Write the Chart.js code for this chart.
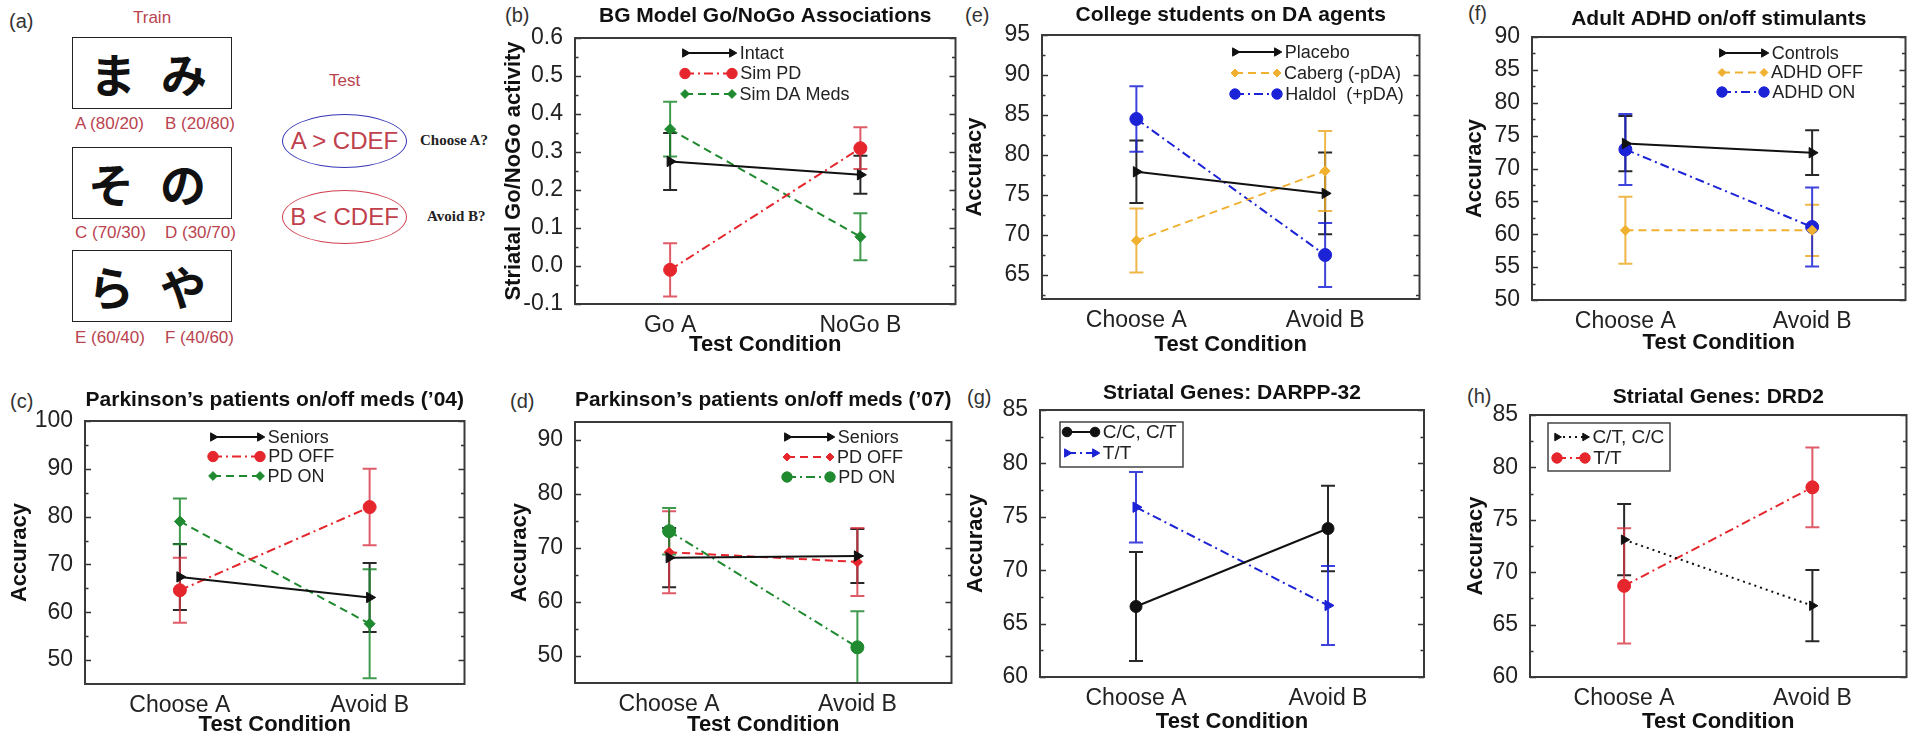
<!DOCTYPE html>
<html>
<head>
<meta charset="utf-8">
<script src="https://cdn.jsdelivr.net/npm/chart.js@4.4.1/dist/chart.umd.min.js"></script>
<style>
  html, body { margin: 0; padding: 0; background: #fff; }
  body { width: 1918px; height: 736px; overflow: hidden; position: relative;
         font-family: "Liberation Sans", Arial, sans-serif; }
  canvas { position: absolute; }
  .letra { position: absolute; font-size: 20px; color: #333; line-height: 20px; }
  .verm { position: absolute; font-size: 17px; color: #b9434f; line-height: 17px; white-space: nowrap; }
  .caixa { position: absolute; left: 72px; width: 160px; height: 72px; box-sizing: border-box;
           border: 1.5px solid #222; }
  .caixa span { position: absolute; top: 0; width: 60px; text-align: center; line-height: 68px;
                font-family: "Noto Sans CJK JP", sans-serif; font-weight: bold; font-size: 46px; color: #111; }
  .elipse { position: absolute; left: 282px; width: 125px; height: 54px; box-sizing: border-box;
            border-radius: 50%; text-align: center; line-height: 52px; font-size: 24px; color: #c0404c; }
  .serif { position: absolute; font-family: "Liberation Serif", serif; font-weight: bold;
           font-size: 15px; color: #222; line-height: 15px; }
</style>
</head>
<body>

<!-- painel (a): desenho do experimento -->
<div class="letra" style="left:9px;top:11px">(a)</div>
<div class="verm" style="left:133px;top:9px">Train</div>
<div class="caixa" style="top:37px"><span style="left:10px">ま</span><span style="left:81px">み</span></div>
<div class="verm" style="left:75px;top:115px">A (80/20)</div>
<div class="verm" style="left:165px;top:115px">B (20/80)</div>
<div class="caixa" style="top:147px"><span style="left:8px">そ</span><span style="left:80px">の</span></div>
<div class="verm" style="left:75px;top:224px">C (70/30)</div>
<div class="verm" style="left:165px;top:224px">D (30/70)</div>
<div class="caixa" style="top:250px"><span style="left:8px">ら</span><span style="left:80px">や</span></div>
<div class="verm" style="left:75px;top:329px">E (60/40)</div>
<div class="verm" style="left:165px;top:329px">F (40/60)</div>
<div class="verm" style="left:329px;top:72px">Test</div>
<div class="elipse" style="top:114px;border:1.5px solid #3535b5">A &gt; CDEF</div>
<div class="elipse" style="top:190px;border:1.5px solid #d04050">B &lt; CDEF</div>
<div class="serif" style="left:420px;top:133px">Choose A?</div>
<div class="serif" style="left:427px;top:209px">Avoid B?</div>

<!-- letras dos paineis -->
<div class="letra" style="left:505px;top:5px">(b)</div>
<div class="letra" style="left:965px;top:5px">(e)</div>
<div class="letra" style="left:1468px;top:3px">(f)</div>
<div class="letra" style="left:10px;top:391px">(c)</div>
<div class="letra" style="left:510px;top:391px">(d)</div>
<div class="letra" style="left:967px;top:387px">(g)</div>
<div class="letra" style="left:1467px;top:386px">(h)</div>

<canvas id="cb"></canvas>
<canvas id="cc"></canvas>
<canvas id="cd"></canvas>
<canvas id="ce"></canvas>
<canvas id="cf"></canvas>
<canvas id="cg"></canvas>
<canvas id="ch"></canvas>

<script>
// ==========================================
// 1. DADOS
// ==========================================

const catsGo = ["Go A", "NoGo B"];
const catsTeste = ["Choose A", "Avoid B"];

// (b) modelo BG
const bIntact = [0.275, 0.24];
const bIntactErr = [0.075, 0.05];
const bSimPD = [-0.01, 0.31];
const bSimPDErr = [0.07, 0.055];
const bSimDA = [0.36, 0.077];
const bSimDAErr = [0.072, 0.062];
const bTicks = [-0.1, 0, 0.1, 0.2, 0.3, 0.4, 0.5, 0.6];
const bMenores = [-0.05, 0.05, 0.15, 0.25, 0.35, 0.45, 0.55];

// (c) Parkinson '04
const cSeniors = [67.4, 63.1];
const cSeniorsErr = [6.9, 7.2];
const cOff = [64.6, 82.0];
const cOffErr = [6.8, 8.0];
const cOn = [79.0, 57.6];
const cOnErr = [4.8, 11.4];
const cTicks = [50, 60, 70, 80, 90, 100];
const cMenores = [55, 65, 75, 85, 95];

// (d) Parkinson '07
const dSeniors = [68.2, 68.5];
const dSeniorsErr = [5.5, 5.0];
const dOff = [69.2, 67.4];
const dOffErr = [7.6, 6.3];
const dOn = [73.1, 51.6];
const dOnErr = [4.3, 6.7];
const dTicks = [50, 60, 70, 80, 90];
const dMenores = [55, 65, 75, 85];

// (e) universitarios
const ePlacebo = [77.9, 75.2];
const ePlaceboErr = [3.9, 5.1];
const eCaberg = [69.3, 78.0];
const eCabergErr = [4.0, 5.0];
const eHaldol = [84.5, 67.5];
const eHaldolErr = [4.1, 4.0];
const eTicks = [65, 70, 75, 80, 85, 90, 95];
const eMenores = [62.5, 67.5, 72.5, 77.5, 82.5, 87.5, 92.5];

// (f) TDAH adulto
const fControls = [73.8, 72.4];
const fControlsErr = [4.2, 3.4];
const fOff = [60.6, 60.6];
const fOffErr = [5.1, 3.9];
const fOn = [72.9, 61.1];
const fOnErr = [5.4, 6.0];
const fTicks = [50, 55, 60, 65, 70, 75, 80, 85, 90];
const fMenores = [52.5, 57.5, 62.5, 67.5, 72.5, 77.5, 82.5, 87.5];

// (g) DARPP-32
const gCC = [66.6, 73.9];
const gCCErr = [5.1, 4.0];
const gTT = [75.9, 66.7];
const gTTErr = [3.3, 3.7];
const gTicks = [60, 65, 70, 75, 80, 85];
const gMenores = [62.5, 67.5, 72.5, 77.5, 82.5];

// (h) DRD2
const hCT = [73.1, 66.8];
const hCTErr = [3.4, 3.4];
const hTT = [68.7, 78.1];
const hTTErr = [5.5, 3.8];
const hTicks = [60, 65, 70, 75, 80, 85];
const hMenores = [62.5, 67.5, 72.5, 77.5, 82.5];

// ==========================================
// 2. ESTILOS
// ==========================================

const FONTE = "'Liberation Sans', Arial, sans-serif";
Chart.defaults.font.family = FONTE;
Chart.defaults.color = "#222";

const PRETO = "#111111";
const VERMELHO = "#e5262d";
const VERDE = "#1f8a2f";
const LARANJA = "#f0b130";
const AZUL = "#1c22d6";

const estPreto = { cor: PRETO, erro: "rgba(17,17,17,0.9)", traco: [], ponto: "triangle", rot: 90, raio: 6 };
const estPretoCirc = { cor: PRETO, erro: "rgba(17,17,17,0.9)", traco: [], ponto: "circle", rot: 0, raio: 6 };
const estPretoPont = { cor: PRETO, erro: "rgba(17,17,17,0.9)", traco: [2, 4], ponto: "triangle", rot: 90, raio: 5.5 };
const estVermTP = { cor: VERMELHO, erro: "rgba(215,50,65,0.8)", traco: [9, 4, 2, 4], ponto: "circle", rot: 0, raio: 6.5 };
const estVermTr = { cor: VERMELHO, erro: "rgba(215,50,65,0.8)", traco: [8, 5], ponto: "rectRot", rot: 0, raio: 5 };
const estVerdeTr = { cor: VERDE, erro: "rgba(31,138,47,0.85)", traco: [8, 5], ponto: "rectRot", rot: 0, raio: 5.5 };
const estVerdeTP = { cor: VERDE, erro: "rgba(31,138,47,0.85)", traco: [9, 4, 2, 4], ponto: "circle", rot: 0, raio: 6.5 };
const estLaranja = { cor: LARANJA, erro: "rgba(235,170,40,0.85)", traco: [8, 5], ponto: "rectRot", rot: 0, raio: 5 };
const estAzul = { cor: AZUL, erro: "rgba(28,34,214,0.85)", traco: [9, 4, 2, 4], ponto: "circle", rot: 0, raio: 6.5 };
const estAzulTri = { cor: AZUL, erro: "rgba(28,34,214,0.85)", traco: [9, 4, 2, 4], ponto: "triangle", rot: 90, raio: 6 };

function serie(label, data, erros, s) {
    return {
        label: label,
        data: data,
        erros: erros,
        corErro: s.erro,
        borderColor: s.cor,
        backgroundColor: s.cor,
        pointBackgroundColor: s.cor,
        pointBorderColor: s.cor,
        borderWidth: 2,
        borderDash: s.traco,
        pointStyle: s.ponto,
        pointRotation: s.rot,
        pointRadius: s.raio,
        pointHoverRadius: s.raio,
        pointBorderWidth: 1,
        tension: 0,
        fill: false,
    };
}

// ==========================================
// 3. PLUGINS (barras de erro, moldura, legenda)
// ==========================================

const errosPlugin = {
    id: "erros",
    beforeDatasetsDraw(chart) {
        const { ctx, chartArea: a, scales } = chart;
        const y = scales.y;
        ctx.save();
        ctx.beginPath();
        ctx.rect(a.left, a.top - 1, a.right - a.left, a.bottom - a.top + 2);
        ctx.clip();
        chart.data.datasets.forEach((ds, i) => {
            const meta = chart.getDatasetMeta(i);
            ds.erros.forEach((e, j) => {
                const px = meta.data[j].x;
                const y1 = y.getPixelForValue(ds.data[j] + e);
                const y2 = y.getPixelForValue(ds.data[j] - e);
                ctx.strokeStyle = ds.corErro;
                ctx.lineWidth = 2;
                ctx.beginPath();
                ctx.moveTo(px, y1); ctx.lineTo(px, y2);
                ctx.moveTo(px - 7, y1); ctx.lineTo(px + 7, y1);
                ctx.moveTo(px - 7, y2); ctx.lineTo(px + 7, y2);
                ctx.stroke();
            });
        });
        ctx.restore();
    },
};

const molduraPlugin = {
    id: "moldura",
    afterDatasetsDraw(chart, args, opts) {
        const { ctx, chartArea: a, scales } = chart;
        const y = scales.y;
        ctx.save();
        ctx.strokeStyle = "#333";
        ctx.lineWidth = 1.5;
        const marcar = (vals, len) => vals.forEach((v) => {
            const py = Math.round(y.getPixelForValue(v)) + 0.5;
            ctx.beginPath();
            ctx.moveTo(a.left, py); ctx.lineTo(a.left + len, py);
            ctx.moveTo(a.right, py); ctx.lineTo(a.right - len, py);
            ctx.stroke();
        });
        marcar(y.ticks.map((t) => t.value), 6);
        marcar(opts.menores || [], 3.5);
        ctx.strokeStyle = "#3a3a3a";
        ctx.lineWidth = 2;
        ctx.strokeRect(a.left, a.top, a.right - a.left, a.bottom - a.top);
        ctx.restore();
    },
};

function desenharMarcador(ctx, ds, x, y, r) {
    ctx.fillStyle = ds.pointBackgroundColor;
    ctx.strokeStyle = ds.pointBorderColor;
    ctx.lineWidth = 1;
    ctx.setLineDash([]);
    if (Chart.helpers && Chart.helpers.drawPoint) {
        Chart.helpers.drawPoint(ctx, {
            pointStyle: ds.pointStyle,
            rotation: ds.pointRotation,
            radius: r,
            borderWidth: 1,
        }, x, y);
        return;
    }
    ctx.beginPath();
    if (ds.pointStyle === "circle") {
        ctx.arc(x, y, r, 0, Math.PI * 2);
    } else if (ds.pointStyle === "triangle") {
        ctx.moveTo(x + r, y);
        ctx.lineTo(x - r / 2, y - r * 0.87);
        ctx.lineTo(x - r / 2, y + r * 0.87);
        ctx.closePath();
    } else {
        ctx.moveTo(x, y - r); ctx.lineTo(x + r, y); ctx.lineTo(x, y + r); ctx.lineTo(x - r, y);
        ctx.closePath();
    }
    ctx.fill();
    ctx.stroke();
}

const legendaPlugin = {
    id: "legenda",
    afterDatasetsDraw(chart, args, opts) {
        if (!opts || opts.dx === undefined) return;
        const { ctx, chartArea: a } = chart;
        const x0 = a.left + opts.dx;
        const y0 = a.top + opts.dy;
        ctx.save();
        if (opts.caixa) {
            ctx.strokeStyle = "#444";
            ctx.lineWidth = 1.5;
            ctx.strokeRect(a.left + opts.caixa[0], a.top + opts.caixa[1], opts.caixa[2], opts.caixa[3]);
        }
        chart.data.datasets.forEach((ds, i) => {
            const yy = y0 + i * opts.passo;
            const r = ds.pointRadius * 0.8;
            ctx.strokeStyle = ds.borderColor;
            ctx.lineWidth = 2;
            ctx.setLineDash(ds.borderDash || []);
            ctx.beginPath();
            ctx.moveTo(x0, yy);
            ctx.lineTo(x0 + opts.len, yy);
            ctx.stroke();
            desenharMarcador(ctx, ds, x0, yy, r);
            desenharMarcador(ctx, ds, x0 + opts.len, yy, r);
            ctx.fillStyle = "#222";
            ctx.font = opts.fonte + "px " + FONTE;
            ctx.textBaseline = "middle";
            ctx.textAlign = "left";
            ctx.fillText(ds.label, x0 + opts.len + r + 3, yy + 1);
        });
        ctx.restore();
    },
};

// ==========================================
// 4. MONTAGEM DE CADA PAINEL
// ==========================================

function montarPainel(id, g, cats, ticks, menores, fmt, yMin, yMax, titulo, yTitulo, series, legenda) {
    const canvas = document.getElementById(id);
    const esq = Math.round(g.yTitleX - 15.2);
    const topo = Math.round(g.titleY - 14.6);
    const padDir = 4;
    const yW = g.l - esq;
    const xH = Math.round(g.xTitleY - g.b + 14.2);
    canvas.width = g.r - esq + padDir;
    canvas.height = g.b + xH - topo;
    canvas.style.left = esq + "px";
    canvas.style.top = topo + "px";

    return new Chart(canvas, {
        type: "line",
        data: { labels: cats, datasets: series },
        options: {
            responsive: false,
            animation: false,
            devicePixelRatio: 1,
            layout: { padding: { left: 0, top: 0, bottom: 0, right: padDir } },
            plugins: {
                legend: { display: false },
                tooltip: { enabled: false },
                title: {
                    display: true,
                    text: titulo,
                    fullSize: false,
                    color: "#111",
                    font: { size: 21, weight: "bold", lineHeight: 1.2 },
                    padding: { top: g.titleY - topo - 12.6, bottom: g.t - g.titleY - 12.6 },
                },
                moldura: { menores: menores },
                legenda: legenda,
            },
            scales: {
                x: {
                    type: "category",
                    offset: true,
                    grid: { display: false },
                    border: { display: false },
                    ticks: { font: { size: 23 }, padding: 0, color: "#222", maxRotation: 0 },
                    title: {
                        display: true,
                        text: "Test Condition",
                        color: "#111",
                        font: { size: 22, weight: "bold", lineHeight: 1.2 },
                        padding: { top: 0, bottom: g.b + xH - g.xTitleY - 13.2 },
                    },
                    afterFit: (s) => { s.height = xH; },
                },
                y: {
                    min: yMin,
                    max: yMax,
                    grid: { display: false },
                    border: { display: false },
                    ticks: { font: { size: 23 }, padding: 4, color: "#222", callback: fmt },
                    afterBuildTicks: (s) => { s.ticks = ticks.map((v) => ({ value: v })); },
                    title: {
                        display: true,
                        text: yTitulo,
                        color: "#111",
                        font: { size: 22, weight: "bold", lineHeight: 1.2 },
                        padding: { top: g.yTitleX - esq - 13.2, bottom: 0 },
                    },
                    afterFit: (s) => { s.width = yW; },
                },
            },
        },
        plugins: [errosPlugin, molduraPlugin, legendaPlugin],
    });
}

const inteiro = (v) => String(v);
const umaCasa = (v) => v.toFixed(1);

montarPainel("cb",
    { l: 575, t: 38, r: 959, b: 304, yTitleX: 514, titleY: 16, xTitleY: 345 },
    catsGo, bTicks, bMenores, umaCasa, -0.1, 0.6,
    "BG Model Go/NoGo Associations", "Striatal Go/NoGo activity",
    [serie("Intact", bIntact, bIntactErr, estPreto),
     serie("Sim PD", bSimPD, bSimPDErr, estVermTP),
     serie("Sim DA Meds", bSimDA, bSimDAErr, estVerdeTr)],
    { dx: 110, dy: 15, passo: 20.5, len: 47, fonte: 18 });

montarPainel("cc",
    { l: 85, t: 421, r: 468, b: 684, yTitleX: 20, titleY: 400, xTitleY: 725 },
    catsTeste, cTicks, cMenores, inteiro, 45, 100,
    "Parkinson\u2019s patients on/off meds (\u201904)", "Accuracy",
    [serie("Seniors", cSeniors, cSeniorsErr, estPreto),
     serie("PD OFF", cOff, cOffErr, estVermTP),
     serie("PD ON", cOn, cOnErr, estVerdeTr)],
    { dx: 128, dy: 16, passo: 19.5, len: 47, fonte: 18 });

montarPainel("cd",
    { l: 575, t: 422, r: 955, b: 683, yTitleX: 519.5, titleY: 400, xTitleY: 725 },
    catsTeste, dTicks, dMenores, inteiro, 45, 93.3,
    "Parkinson\u2019s patients on/off meds (\u201907)", "Accuracy",
    [serie("Seniors", dSeniors, dSeniorsErr, estPreto),
     serie("PD OFF", dOff, dOffErr, estVermTr),
     serie("PD ON", dOn, dOnErr, estVerdeTP)],
    { dx: 212, dy: 15, passo: 20, len: 43, fonte: 18 });

montarPainel("ce",
    { l: 1042, t: 35, r: 1423, b: 299, yTitleX: 975, titleY: 15, xTitleY: 345 },
    catsTeste, eTicks, eMenores, inteiro, 62, 95,
    "College students on DA agents", "Accuracy",
    [serie("Placebo", ePlacebo, ePlaceboErr, estPreto),
     serie("Caberg (-pDA)", eCaberg, eCabergErr, estLaranja),
     serie("Haldol  (+pDA)", eHaldol, eHaldolErr, estAzul)],
    { dx: 193, dy: 17, passo: 21, len: 42, fonte: 18 });

montarPainel("cf",
    { l: 1532, t: 37, r: 1909, b: 300, yTitleX: 1475, titleY: 19, xTitleY: 343 },
    catsTeste, fTicks, fMenores, inteiro, 50, 90,
    "Adult ADHD on/off stimulants", "Accuracy",
    [serie("Controls", fControls, fControlsErr, estPreto),
     serie("ADHD OFF", fOff, fOffErr, estLaranja),
     serie("ADHD ON", fOn, fOnErr, estAzul)],
    { dx: 190, dy: 16, passo: 19.5, len: 42, fonte: 18 });

montarPainel("cg",
    { l: 1040, t: 410, r: 1427, b: 677, yTitleX: 975.5, titleY: 393, xTitleY: 722 },
    catsTeste, gTicks, gMenores, inteiro, 60, 85,
    "Striatal Genes: DARPP-32", "Accuracy",
    [serie("C/C, C/T", gCC, gCCErr, estPretoCirc),
     serie("T/T", gTT, gTTErr, estAzulTri)],
    { dx: 27, dy: 22, passo: 21, len: 28, fonte: 19, caixa: [20, 12, 123, 45] });

montarPainel("ch",
    { l: 1530, t: 415, r: 1910, b: 677, yTitleX: 1475.5, titleY: 397, xTitleY: 722 },
    catsTeste, hTicks, hMenores, inteiro, 60, 85,
    "Striatal Genes: DRD2", "Accuracy",
    [serie("C/T, C/C", hCT, hCTErr, estPretoPont),
     serie("T/T", hTT, hTTErr, estVermTP)],
    { dx: 27, dy: 22, passo: 21, len: 28, fonte: 19, caixa: [18, 8, 122, 48] });
</script>
</body>
</html>
